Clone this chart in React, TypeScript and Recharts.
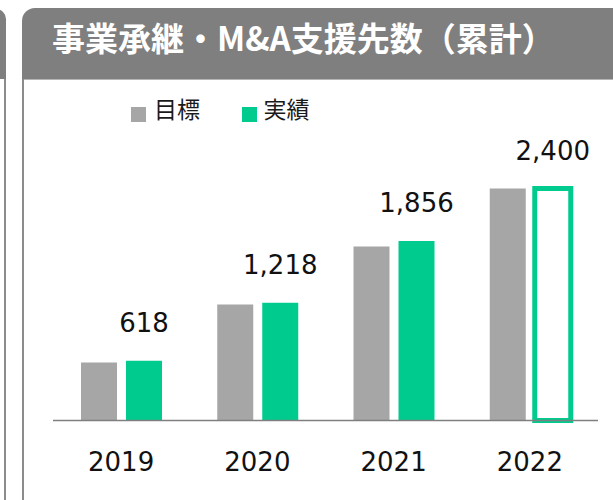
import React from 'react';
import { BarChart, Bar, XAxis, YAxis, Cell, LabelList } from 'recharts';

const years = ['2019', '2020', '2021', '2022'];
const targets = [600, 1200, 1800, 2400];
const actuals = [618, 1218, 1856, 2400];
const legendLabels = ['目標', '実績'];
const title = '事業承継・M&A支援先数（累計）';

const GRAY = '#a6a6a6';
const GREEN = '#00cb8e';
const HEADER = '#7f7f7f';
const BORDER = '#8c8c8c';

const data = years.map((y, i) => ({ year: y, target: targets[i], actual: actuals[i] }));

const ValueLabel = (props: any) => {
  const { x, y, width, value } = props;
  return (
    <text
      x={Number(x) + Number(width) / 2}
      y={Number(y) - 29}
      textAnchor="middle"
      fontFamily="'DejaVu Sans', Verdana, sans-serif"
      fontSize={26}
      fill="#111"
    >
      {Number(value).toLocaleString('en-US')}
    </text>
  );
};

const YearTick = (props: any) => {
  const { x, y, payload } = props;
  return (
    <text
      x={x}
      y={y}
      dy={42}
      textAnchor="middle"
      fontFamily="'DejaVu Sans', Verdana, sans-serif"
      fontSize={26}
      fill="#111"
    >
      {payload.value}
    </text>
  );
};

export default function App() {
  return (
    <div
      style={{
        position: 'absolute',
        left: 0,
        top: 0,
        width: 613,
        height: 500,
        overflow: 'hidden',
        background: '#fff',
      }}
    >
      {/* left neighbour panel fragment */}
      <div
        style={{
          position: 'absolute',
          left: -200,
          top: 9,
          width: 206,
          height: 70,
          background: HEADER,
          borderTopRightRadius: 10,
        }}
      />
      <div style={{ position: 'absolute', left: 4, top: 79, width: 2, height: 421, background: BORDER }} />

      {/* main panel */}
      <div
        style={{
          position: 'absolute',
          left: 22,
          top: 8,
          width: 700,
          height: 71,
          background: HEADER,
          borderTopLeftRadius: 13,
        }}
      />
      <div style={{ position: 'absolute', left: 22, top: 79, width: 2, height: 421, background: BORDER }} />
      <div style={{ position: 'absolute', left: 24, top: 79, width: 600, height: 1, background: '#b5b5b5' }} />
      <div
        style={{
          position: 'absolute',
          left: 52,
          top: 21,
          fontFamily: "'Noto Sans CJK JP', sans-serif",
          fontWeight: 700,
          fontSize: 33,
          lineHeight: '33px',
          color: '#fff',
          whiteSpace: 'nowrap',
        }}
      >
        {title}
      </div>

      {/* legend */}
      {legendLabels.map((lab, i) => (
        <React.Fragment key={lab}>
          <div
            style={{
              position: 'absolute',
              left: 131 + i * 110.5,
              top: 107,
              width: 15,
              height: 15,
              background: i === 0 ? GRAY : GREEN,
            }}
          />
          <div
            style={{
              position: 'absolute',
              left: 154 + i * 109.5,
              top: 97,
              fontFamily: "'Noto Sans CJK JP', sans-serif",
              fontSize: 23,
              lineHeight: '23px',
              color: '#1a1a1a',
              whiteSpace: 'nowrap',
            }}
          >
            {lab}
          </div>
        </React.Fragment>
      ))}

      <div style={{ position: 'absolute', left: 0, top: 0 }}>
        <BarChart
          width={613}
          height={500}
          data={data}
          margin={{ top: 188.5, right: 15, bottom: 49.5, left: 53 }}
          barSize={36}
          barGap={9}
        >
          <XAxis
            dataKey="year"
            height={30}
            tickLine={false}
            axisLine={{ stroke: HEADER, strokeWidth: 1.6 }}
            tick={<YearTick />}
            interval={0}
          />
          <YAxis hide domain={[0, 2400]} />
          <Bar dataKey="target" fill={GRAY} isAnimationActive={false} />
          <Bar dataKey="actual" fill={GREEN} isAnimationActive={false}>
            {data.map((d, i) => (
              <Cell
                key={d.year}
                fill={i === data.length - 1 ? '#ffffff' : GREEN}
                stroke={i === data.length - 1 ? GREEN : 'none'}
                strokeWidth={i === data.length - 1 ? 5 : 0}
              />
            ))}
            <LabelList dataKey="actual" content={<ValueLabel />} />
          </Bar>
        </BarChart>
      </div>
    </div>
  );
}
